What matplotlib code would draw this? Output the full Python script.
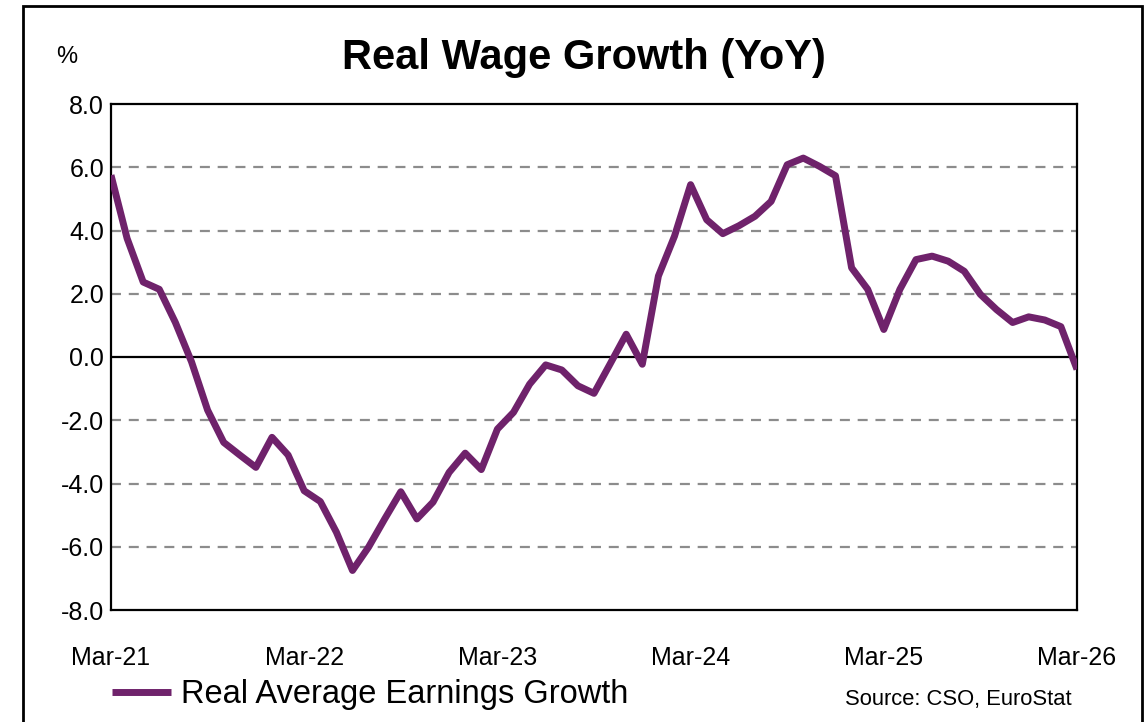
import matplotlib
matplotlib.use('Agg')
import matplotlib.pyplot as plt
import numpy as np
import pandas as pd
from matplotlib.patches import Rectangle

plt.rcParams['font.family'] = ['Liberation Sans', 'DejaVu Sans']

# monthly real average earnings growth, Mar-21 .. Mar-26 (%)
months = pd.date_range('2021-03-01', '2026-03-01', freq='MS')
growth = [5.75, 3.75, 2.37, 2.14, 1.09, -0.15, -1.68, -2.70, -3.10, -3.49,
          -2.54, -3.10, -4.23, -4.57, -5.54, -6.75, -6.01, -5.12, -4.26, -5.12,
          -4.59, -3.65, -3.04, -3.56, -2.28, -1.75, -0.86, -0.25, -0.41, -0.91,
          -1.15, -0.22, 0.72, -0.23, 2.56, 3.82, 5.45, 4.34, 3.90, 4.15,
          4.45, 4.92, 6.08, 6.29, 6.03, 5.73, 2.82, 2.14, 0.87, 2.14,
          3.08, 3.19, 3.03, 2.71, 1.98, 1.50, 1.09, 1.27, 1.17, 0.96,
          -0.39]
tick_labels = ['Mar-21', 'Mar-22', 'Mar-23', 'Mar-24', 'Mar-25', 'Mar-26']
yticks = [-8, -6, -4, -2, 0, 2, 4, 6, 8]

x = np.arange(len(months))

fig = plt.figure(figsize=(11.48, 7.22), dpi=100)
ax = fig.add_axes([111/1148, 1-610/722, (1077-111)/1148, (610-104)/722])

for v in [-6, -4, -2, 2, 4, 6]:
    ax.axhline(v, color='#8c8c8c', lw=1.6, ls=(0, (4.5, 3.5)), zorder=1)
ax.axhline(0, color='black', lw=1.6, zorder=2)

line, = ax.plot(x, growth, color='#6f226b', lw=5, solid_joinstyle='round',
                solid_capstyle='butt', zorder=3)

ax.set_xlim(0, 60)
ax.set_ylim(-8, 8)
ax.set_yticks(yticks)
ax.set_yticklabels(['%.1f' % v for v in yticks])
ax.set_xticks(np.arange(0, 61, 12))
ax.set_xticklabels(tick_labels)
ax.tick_params(axis='both', length=0, labelsize=18, colors='black')
ax.tick_params(axis='x', pad=26)
ax.tick_params(axis='y', pad=5)
for s in ax.spines.values():
    s.set_linewidth(1.6)
    s.set_color('black')

fig.text(584/1148, 1-58/722, 'Real Wage Growth (YoY)', ha='center', va='center',
         fontsize=30, fontweight='bold')
fig.text(67/1148, 1-57/722, '%', ha='center', va='center', fontsize=17)

leg = fig.legend([line], ['Real Average Earnings Growth'], loc='center left',
                 bbox_to_anchor=(112/1148, 1-695/722), frameon=False,
                 fontsize=23.5, handlelength=1.8, handletextpad=0.3,
                 borderpad=0, borderaxespad=0)
fig.text(1072/1148, 1-700/722, 'Source: CSO, EuroStat', ha='right', va='center',
         fontsize=15.8)

fig.patches.append(Rectangle((23/1148, -0.05), (1142-23)/1148, 1.05-6/722,
                             transform=fig.transFigure, fill=False,
                             edgecolor='black', lw=2))

fig.savefig('out.png', dpi=100)
